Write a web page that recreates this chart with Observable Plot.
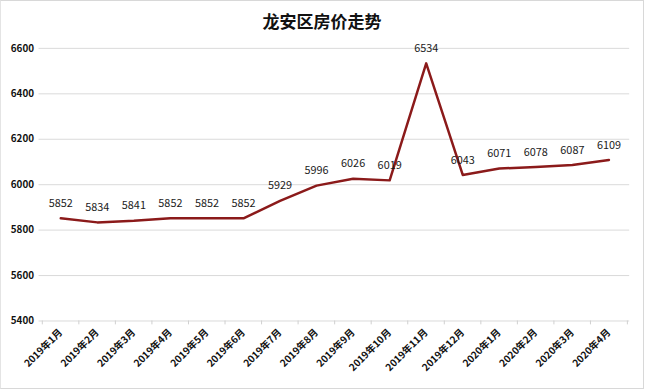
<!DOCTYPE html>
<html>
<head>
<meta charset="utf-8">
<script src="https://cdn.jsdelivr.net/npm/d3@7"></script>
<script src="https://cdn.jsdelivr.net/npm/@observablehq/plot@0.6"></script>
<style>
  html, body { margin: 0; padding: 0; background: #fff; }
  #frame { position: relative; width: 642px; height: 387px; border: 1px solid #d8d8d8; border-left-color:#e4e4e4; box-sizing: content-box; overflow: hidden; }
  #title { height: 38px; line-height: 40px; text-align: center; font-family: "Noto Sans CJK SC", sans-serif; font-weight: 700; font-size: 17px; color: #111; }
  svg { font-family: "Noto Sans CJK SC", "Liberation Sans", sans-serif; }
</style>
</head>
<body>
<div id="frame">
  <div id="title">龙安区房价走势</div>
  <div id="chart"></div>
</div>
<script>
const months = ["2019年1月","2019年2月","2019年3月","2019年4月","2019年5月","2019年6月","2019年7月","2019年8月","2019年9月","2019年10月","2019年11月","2019年12月","2020年1月","2020年2月","2020年3月","2020年4月"];
const prices = [5852, 5834, 5841, 5852, 5852, 5852, 5929, 5996, 6026, 6019, 6534, 6043, 6071, 6078, 6087, 6109];
const yTicks = [5400, 5600, 5800, 6000, 6200, 6400, 6600];

const data = months.map((m, i) => ({month: m, price: prices[i]}));
const W = 650, H = 349, ML = 38, MR = 14;
const step = (W - ML - MR) / months.length;
const tickData = months.map((m, i) => ({month: m, dx: -step / 2}))
  .concat([{month: months[months.length - 1], dx: step / 2}]);

const chart = Plot.plot({
  width: W,
  height: H,
  marginLeft: ML,
  marginRight: MR,
  marginTop: 9,
  marginBottom: 64,
  style: {fontSize: "10px", fontWeight: "bold", color: "#111", background: "transparent"},
  x: {type: "point", domain: months, padding: 0.5, label: null},
  y: {domain: [5400, 6600], ticks: yTicks, label: null},
  marks: [
    Plot.ruleY(yTicks, {stroke: "#d9d9d9", strokeWidth: 1}),
    Plot.axisY({ticks: yTicks, tickSize: 0, tickPadding: 5, tickFormat: d => String(d), fontSize: 10, fontWeight: "bold", label: null}),
    Plot.axisX({tickSize: 0, tickPadding: 10, tickRotate: -45, fontSize: 10, fontWeight: "bold", label: null}),
    Plot.ruleX(tickData.filter(d => d.dx < 0), {x: "month", y1: 5400, y2: 5383, stroke: "#cfcfcf", dx: -step / 2}),
    Plot.ruleX(tickData.filter(d => d.dx > 0), {x: "month", y1: 5400, y2: 5383, stroke: "#cfcfcf", dx: step / 2}),
    Plot.line(data, {x: "month", y: "price", stroke: "#8b1a1a", strokeWidth: 2.5}),
    Plot.text(data, {x: "month", y: "price", text: d => String(d.price), dy: -15, fontSize: 11, fontWeight: "normal", fill: "#1a1a1a"})
  ]
});
document.getElementById("chart").appendChild(chart);
</script>
</body>
</html>
